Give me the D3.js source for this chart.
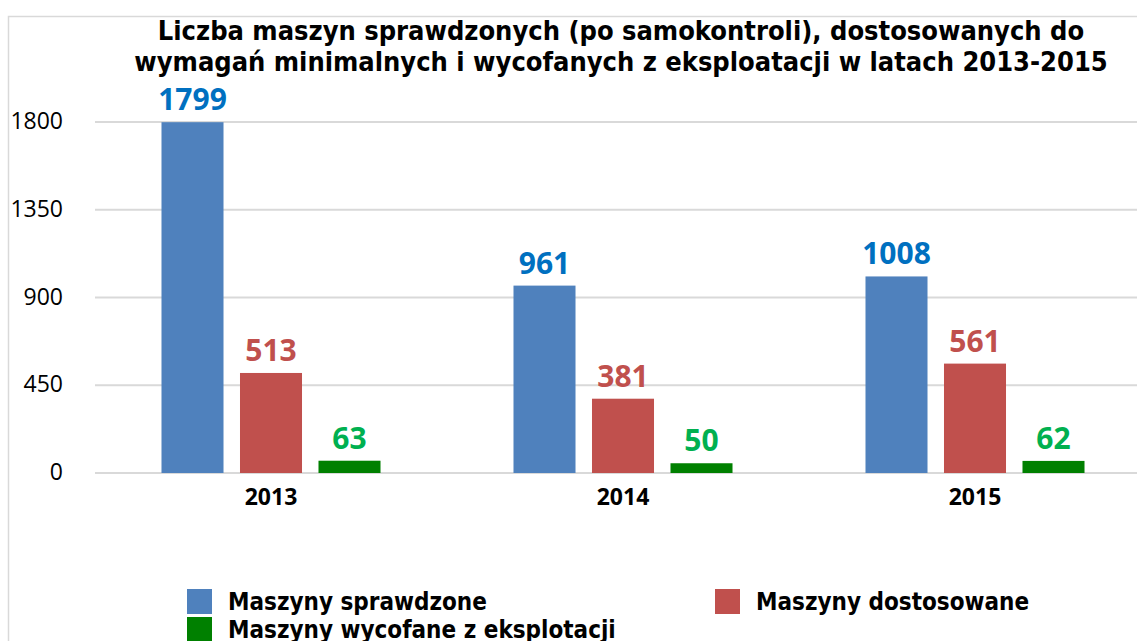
<!DOCTYPE html>
<html>
<head>
<meta charset="utf-8">
<script src="https://cdn.jsdelivr.net/npm/d3@7"></script>
<style>
  html, body { margin: 0; padding: 0; background: #fff; }
  svg { display: block; }
</style>
</head>
<body>
<svg id="chart" width="1137" height="641"></svg>
<script>
const years = ["2013", "2014", "2015"];
const seriesNames = ["Maszyny sprawdzone", "Maszyny dostosowane", "Maszyny wycofane z eksplotacji"];
const sprawdzone = [1799, 961, 1008];
const dostosowane = [513, 381, 561];
const wycofane = [63, 50, 62];
const yTicks = [0, 450, 900, 1350, 1800];
const titleLines = [
  "Liczba maszyn sprawdzonych (po samokontroli), dostosowanych do",
  "wymagań minimalnych i wycofanych z eksploatacji w latach 2013-2015"
];

const barColors = ["#4f81bd", "#c0504d", "#008000"];
const labelColors = ["#0070c0", "#c0504d", "#00b050"];

const svg = d3.select("#chart");
const values = [sprawdzone, dostosowane, wycofane];

const rows = years.map((y, i) => ({
  year: y,
  bars: seriesNames.map((s, k) => ({ key: k, value: values[k][i] }))
}));

// frame
svg.append("path")
  .attr("d", "M8.5,641V16.5H1137")
  .attr("fill", "none")
  .attr("stroke", "#d9d9d9")
  .attr("stroke-width", 1.5);

const x = d3.scaleBand().domain(years).range([95, 1151]);
const xInner = d3.scaleBand()
  .domain(d3.range(seriesNames.length))
  .range([0, x.bandwidth()])
  .paddingInner(0.21)
  .paddingOuter(0.847);
const y = d3.scaleLinear().domain([0, 1800]).range([473, 122]);

// grid
svg.append("g")
  .selectAll("line")
  .data(yTicks)
  .join("line")
  .attr("x1", 95)
  .attr("x2", 1137)
  .attr("y1", d => y(d))
  .attr("y2", d => y(d))
  .attr("stroke", "#d9d9d9")
  .attr("stroke-width", 2);

// y labels
svg.append("g")
  .selectAll("text")
  .data(yTicks)
  .join("text")
  .attr("x", 63)
  .attr("y", d => y(d) + 7)
  .attr("text-anchor", "end")
  .attr("font-family", "'Open Sans', sans-serif")
  .attr("font-size", 23)
  .attr("fill", "#000")
  .text(d => d);

// bars
const groups = svg.append("g")
  .selectAll("g")
  .data(rows)
  .join("g")
  .attr("transform", d => `translate(${x(d.year)},0)`);

groups.selectAll("rect")
  .data(d => d.bars)
  .join("rect")
  .attr("x", d => xInner(d.key))
  .attr("width", xInner.bandwidth())
  .attr("y", d => y(d.value))
  .attr("height", d => y(0) - y(d.value))
  .attr("fill", d => barColors[d.key]);

groups.selectAll("text.val")
  .data(d => d.bars)
  .join("text")
  .attr("class", "val")
  .attr("x", d => xInner(d.key) + xInner.bandwidth() / 2)
  .attr("y", d => y(d.value) - 12)
  .attr("text-anchor", "middle")
  .attr("font-family", "'Open Sans', sans-serif")
  .attr("font-weight", "bold")
  .attr("font-size", 30)
  .attr("fill", d => labelColors[d.key])
  .text(d => d.value);

// x labels
svg.append("g")
  .selectAll("text")
  .data(years)
  .join("text")
  .attr("x", d => x(d) + x.bandwidth() / 2)
  .attr("y", 505)
  .attr("text-anchor", "middle")
  .attr("font-family", "'Open Sans', sans-serif")
  .attr("font-weight", "bold")
  .attr("font-size", 23)
  .text(d => d);

// title
svg.append("text")
  .attr("x", 621)
  .attr("text-anchor", "middle")
  .attr("font-family", "'DejaVu Sans Condensed', 'DejaVu Sans', sans-serif")
  .attr("font-weight", "bold")
  .attr("font-size", 27)
  .selectAll("tspan")
  .data(titleLines)
  .join("tspan")
  .attr("x", 621)
  .attr("y", (d, i) => 40 + i * 31)
  .text(d => d);

// legend
const legendPos = [[187, 589], [715, 589], [187, 617]];
const legendG = svg.append("g")
  .selectAll("g")
  .data(seriesNames)
  .join("g")
  .attr("transform", (d, i) => `translate(${legendPos[i][0]},${legendPos[i][1]})`);

legendG.append("rect")
  .attr("width", 25)
  .attr("height", 25)
  .attr("fill", (d, i) => barColors[i]);

legendG.append("text")
  .attr("x", 41)
  .attr("y", 21)
  .attr("font-family", "'DejaVu Sans Condensed', 'DejaVu Sans', sans-serif")
  .attr("font-weight", "bold")
  .attr("font-size", 24)
  .attr("fill", "#000")
  .text(d => d);
</script>
</body>
</html>
